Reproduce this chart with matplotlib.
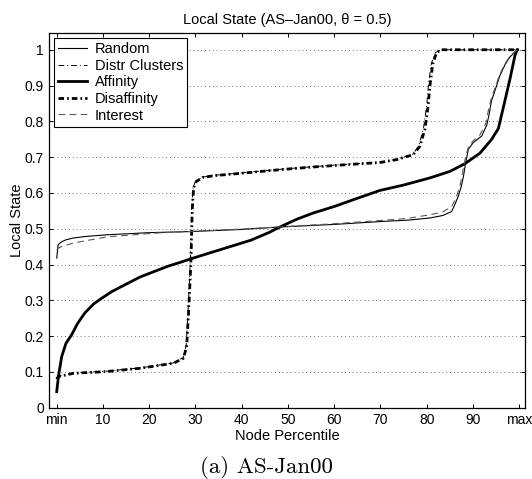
import matplotlib
matplotlib.use("Agg")
import matplotlib.pyplot as plt

# (node percentile vs. local state)
random_x = [0, 0.3, 1, 2, 3.6, 6, 10.8, 20, 28.8, 40, 48.3, 60, 69.9, 76, 80.7, 83.5, 85.4,
            86.1, 86.8, 87.5, 88.0, 88.3, 89.0, 90.1, 91.9, 93.0, 93.5, 94.0, 95.0, 95.8,
            97.0, 98.0, 99.6]
random_y = [0.418, 0.455, 0.463, 0.469, 0.474, 0.478, 0.483, 0.489, 0.492, 0.498, 0.505,
            0.512, 0.520, 0.524, 0.530, 0.537, 0.548, 0.568, 0.590, 0.619, 0.650, 0.675,
            0.722, 0.741, 0.759, 0.790, 0.820, 0.857, 0.895, 0.927, 0.960, 0.980, 1.0]

interest_x = [0, 0.3, 1, 3.6, 10.8, 21.6, 30, 40, 48.3, 60, 70, 76, 80.7, 83.5, 85.4, 86.3,
              87.2, 87.8, 88.4, 89.0, 90.0, 91.5, 92.8, 93.4, 94.0, 95.0, 95.8, 97.0, 98.2,
              99.6]
interest_y = [0.441, 0.445, 0.450, 0.460, 0.477, 0.488, 0.493, 0.499, 0.505, 0.514, 0.523,
              0.529, 0.539, 0.547, 0.562, 0.585, 0.620, 0.660, 0.700, 0.728, 0.745, 0.762,
              0.795, 0.835, 0.866, 0.902, 0.932, 0.963, 0.985, 1.0]

affinity_x = [0, 0.4, 1.08, 2, 3.24, 4.5, 6.1, 8, 10.1, 12, 14.4, 18, 21.6, 24, 26.7, 28.8,
              33, 37.5, 42, 46, 48.3, 52, 55.5, 60, 65, 69.9, 75, 80.7, 85, 88.3, 91.5,
              94.0, 95.5, 96.5, 98, 99.1, 99.6]
affinity_y = [0.045, 0.09, 0.143, 0.18, 0.204, 0.235, 0.265, 0.29, 0.309, 0.325, 0.341,
              0.365, 0.383, 0.395, 0.406, 0.415, 0.432, 0.45, 0.468, 0.49, 0.505, 0.527,
              0.544, 0.562, 0.585, 0.607, 0.622, 0.642, 0.66, 0.682, 0.711, 0.749, 0.780,
              0.835, 0.918, 0.985, 1.0]

disaff_x = [0, 0.35, 3.6, 10.8, 18, 25.2, 27.4, 28.1, 28.5, 29.0, 29.3, 29.6, 30.2, 31.5,
            33.9, 40, 48.3, 55, 62.7, 69.9, 73.5, 77.1, 78.5, 79.6, 80.3, 80.7, 81.3, 82.1,
            83, 100]
disaff_y = [0.080, 0.087, 0.096, 0.101, 0.110, 0.124, 0.138, 0.171, 0.264, 0.40, 0.55,
            0.615, 0.632, 0.643, 0.648, 0.655, 0.665, 0.672, 0.679, 0.685, 0.693, 0.707,
            0.730, 0.777, 0.842, 0.90, 0.96, 0.991, 1.0, 1.0]

clusters_x = [0, 0.35, 3.6, 10.8, 18, 25.2, 27.4, 28.0, 28.4, 28.9, 29.2, 29.5, 30.1, 31.5,
              33.9, 40, 48.3, 55, 62.7, 69.9, 73.5, 77.0, 78.3, 79.3, 80.0, 80.4, 81.0,
              81.9, 83, 100]
clusters_y = [0.082, 0.088, 0.097, 0.102, 0.111, 0.125, 0.140, 0.175, 0.270, 0.41, 0.56,
              0.618, 0.634, 0.644, 0.649, 0.656, 0.666, 0.673, 0.680, 0.686, 0.694, 0.708,
              0.732, 0.780, 0.845, 0.905, 0.962, 0.992, 1.0, 1.0]

xtick_pos = [0, 10, 20, 30, 40, 50, 60, 70, 80, 90, 100]
xtick_labels = ["min", "10", "20", "30", "40", "50", "60", "70", "80", "90", "max"]
ytick_pos = [0, 0.1, 0.2, 0.3, 0.4, 0.5, 0.6, 0.7, 0.8, 0.9, 1]
ytick_labels = ["0", "0.1", "0.2", "0.3", "0.4", "0.5", "0.6", "0.7", "0.8", "0.9", "1"]

plt.rcParams["font.family"] = ["Liberation Sans", "DejaVu Sans"]

fig = plt.figure(figsize=(5.32, 4.79), dpi=100)
ax = fig.add_axes([0.0927, 0.1489, 0.8941, 0.7816])

ax.plot(random_x, random_y, color="black", lw=0.8, ls="-", label="Random")
ax.plot(clusters_x, clusters_y, color="black", lw=0.7, ls=(0, (6, 3, 1, 3)),
        label="Distr Clusters")
ax.plot(affinity_x, affinity_y, color="black", lw=2.0, ls="-", label="Affinity")
ax.plot(disaff_x, disaff_y, color="black", lw=2.0, ls=(0, (2.0, 1.1, 0.6, 1.1)),
        label="Disaffinity")
ax.plot(interest_x, interest_y, color="0.35", lw=0.8, ls=(0, (6, 4)), label="Interest")

ax.set_xlim(-1.6, 101.25)
ax.set_ylim(0, 1.046)
ax.set_xticks(xtick_pos)
ax.set_xticklabels(xtick_labels)
ax.set_yticks(ytick_pos)
ax.set_yticklabels(ytick_labels)
ax.tick_params(direction="in", top=True, right=True, length=3, width=0.7,
               labelsize=10, pad=4)
ax.yaxis.grid(True, ls=(0, (1, 3)), lw=0.7, color="0.45")
for s in ax.spines.values():
    s.set_linewidth(0.9)

ax.set_title("Local State (AS\u2013Jan00, \u03b8 = 0.5)", fontsize=10.5, pad=7)
ax.set_xlabel("Node Percentile", fontsize=10.5, labelpad=1)
ax.set_ylabel("Local State", fontsize=10.5, labelpad=0)

leg = ax.legend(loc="upper left", fontsize=10.5, labelspacing=0.18, handlelength=2.0,
                handletextpad=0.5, borderpad=0.3, borderaxespad=0.3, fancybox=False,
                framealpha=1, edgecolor="black")
leg.get_frame().set_linewidth(0.8)

fig.text(0.5, 0.025, "(a) AS-Jan00", ha="center", va="center", fontsize=16.5,
         family="cmr10")

fig.savefig("out.png", dpi=100)
